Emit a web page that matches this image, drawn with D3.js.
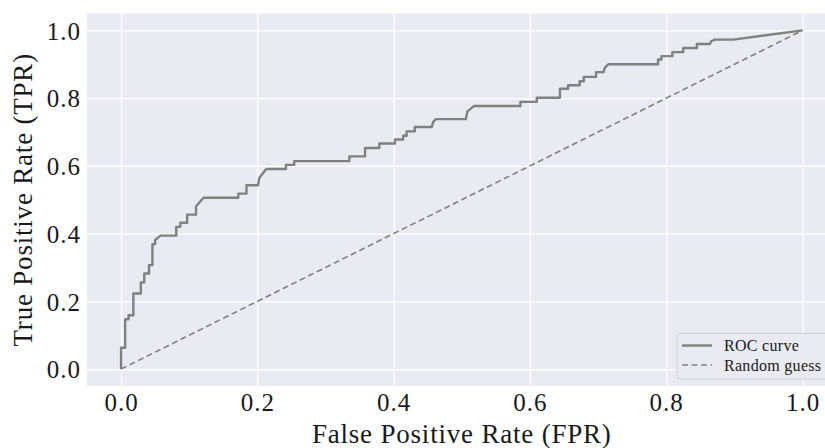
<!DOCTYPE html>
<html>
<head>
<meta charset="utf-8">
<script src="https://cdn.jsdelivr.net/npm/d3@7"></script>
<style>
  body { margin: 0; background: #fff; }
  text { font-family: "Liberation Serif", "DejaVu Serif", serif; fill: #1a1a1a; }
</style>
</head>
<body>
<script>
// ROC curve points
var fpr = [0, 0, 0.006, 0.006, 0.011, 0.011, 0.018, 0.018, 0.029, 0.029, 0.034, 0.034,
  0.041, 0.041, 0.046, 0.046, 0.050, 0.050, 0.058, 0.081, 0.081, 0.087, 0.087, 0.097,
  0.097, 0.110, 0.110, 0.121, 0.172, 0.172, 0.184, 0.184, 0.201, 0.203, 0.213, 0.242,
  0.242, 0.254, 0.254, 0.335, 0.335, 0.358, 0.358, 0.379, 0.379, 0.402, 0.402, 0.414,
  0.414, 0.419, 0.419, 0.431, 0.431, 0.456, 0.458, 0.462, 0.506, 0.508, 0.518, 0.586,
  0.586, 0.610, 0.610, 0.644, 0.644, 0.656, 0.656, 0.673, 0.673, 0.679, 0.679, 0.697,
  0.697, 0.708, 0.710, 0.715, 0.788, 0.788, 0.793, 0.793, 0.809, 0.809, 0.825, 0.825,
  0.845, 0.845, 0.864, 0.866, 0.871, 0.898, 1.0];
var tpr = [0, 0.063, 0.063, 0.147, 0.147, 0.159, 0.159, 0.223, 0.223, 0.256, 0.256, 0.282,
  0.282, 0.307, 0.307, 0.369, 0.369, 0.381, 0.394, 0.394, 0.420, 0.420, 0.432, 0.432,
  0.456, 0.456, 0.481, 0.506, 0.506, 0.518, 0.518, 0.543, 0.543, 0.565, 0.591, 0.591,
  0.603, 0.603, 0.614, 0.614, 0.628, 0.628, 0.653, 0.653, 0.666, 0.666, 0.678, 0.678,
  0.689, 0.689, 0.702, 0.702, 0.715, 0.715, 0.730, 0.738, 0.738, 0.760, 0.777, 0.777,
  0.789, 0.789, 0.801, 0.801, 0.828, 0.828, 0.838, 0.838, 0.850, 0.850, 0.863, 0.863,
  0.877, 0.877, 0.890, 0.900, 0.900, 0.914, 0.914, 0.924, 0.924, 0.936, 0.936, 0.948,
  0.948, 0.960, 0.960, 0.968, 0.973, 0.973, 1.0];

var guessFpr = [0, 1];
var guessTpr = [0, 1];

var ticks = [0, 0.2, 0.4, 0.6, 0.8, 1.0];
var legendLabels = ["ROC curve", "Random guess"];

var W = 825, H = 448;
var m = { left: 87, right: 836.6, top: 13.5, bottom: 386 };

var svg = d3.select("body").append("svg")
    .attr("width", W)
    .attr("height", H);

var x = d3.scaleLinear().domain([-0.05, 1.05]).range([m.left, m.right]);
var y = d3.scaleLinear().domain([-0.05, 1.05]).range([m.bottom, m.top]);

svg.append("rect")
    .attr("x", m.left).attr("y", m.top)
    .attr("width", m.right - m.left).attr("height", m.bottom - m.top)
    .attr("fill", "#eaeaf2");

// grid + tick labels
var xAxis = d3.axisBottom(x).tickValues(ticks).tickSize(-(m.bottom - m.top)).tickFormat(d3.format(".1f"));
var yAxis = d3.axisLeft(y).tickValues(ticks).tickSize(-(m.right - m.left)).tickFormat(d3.format(".1f"));

var gx = svg.append("g").attr("transform", "translate(0," + m.bottom + ")").call(xAxis);
var gy = svg.append("g").attr("transform", "translate(" + m.left + ",0)").call(yAxis);

[gx, gy].forEach(function (g) {
  g.select(".domain").remove();
  g.selectAll(".tick line").attr("stroke", "#fff").attr("stroke-width", 1.3);
  g.selectAll(".tick text").attr("font-size", 25).attr("fill", "#1a1a1a")
      .attr("letter-spacing", 1)
      .style("font-family", "'Liberation Serif', serif");
});
gx.selectAll(".tick text").attr("y", 7).attr("dy", "0.71em");
gy.selectAll(".tick text").attr("x", -6).attr("dy", "0.35em");

var line = d3.line()
    .x(function (d) { return x(d[0]); })
    .y(function (d) { return y(d[1]); });

svg.append("path")
    .datum(d3.zip(guessFpr, guessTpr))
    .attr("d", line)
    .attr("fill", "none")
    .attr("stroke", "#808080")
    .attr("stroke-width", 1.6)
    .attr("stroke-dasharray", "6,3.5");

svg.append("path")
    .datum(d3.zip(fpr, tpr))
    .attr("d", line)
    .attr("fill", "none")
    .attr("stroke", "#808080")
    .attr("stroke-width", 2.4)
    .attr("stroke-linejoin", "round");

// axis labels
svg.append("text")
    .attr("x", x(0.5))
    .attr("y", 443)
    .attr("text-anchor", "middle")
    .attr("font-size", 27)
    .attr("letter-spacing", 0.8)
    .text("False Positive Rate (FPR)");

svg.append("text")
    .attr("transform", "translate(32," + y(0.5) + ") rotate(-90)")
    .attr("text-anchor", "middle")
    .attr("font-size", 27)
    .attr("letter-spacing", 0.8)
    .text("True Positive Rate (TPR)");

// legend
var lg = svg.append("g").attr("transform", "translate(677,333.5)");
lg.append("rect")
    .attr("width", 170).attr("height", 45.5)
    .attr("rx", 3)
    .attr("fill", "#eaeaf2")
    .attr("stroke", "#cfcfd6")
    .attr("stroke-width", 1);

legendLabels.forEach(function (label, i) {
  var ly = 12 + i * 19.5;
  lg.append("line")
      .attr("x1", 5).attr("x2", 35)
      .attr("y1", ly).attr("y2", ly)
      .attr("stroke", "#808080")
      .attr("stroke-width", i === 0 ? 2.4 : 1.6)
      .attr("stroke-dasharray", i === 0 ? null : "6,3.5");
  lg.append("text")
      .attr("x", 47).attr("y", ly)
      .attr("dy", "0.35em")
      .attr("font-size", 16)
      .attr("letter-spacing", 0.3)
      .text(label);
});
</script>
</body>
</html>
